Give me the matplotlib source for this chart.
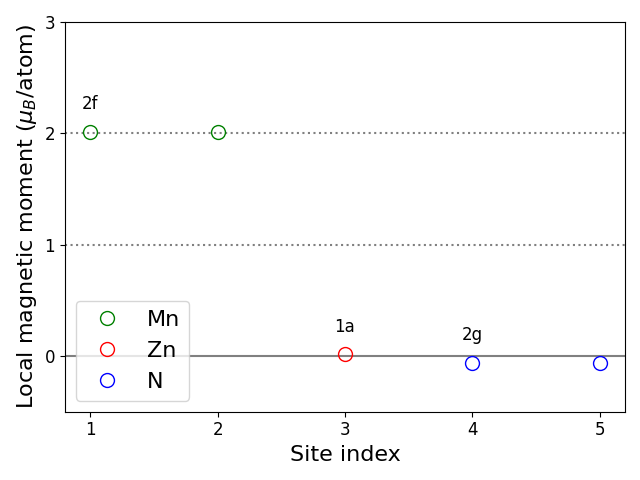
import matplotlib.pyplot as plt
import numpy as np

# site data
mn_x = [1, 2]
mn_m = [2.01, 2.01]
zn_x = [3]
zn_m = [0.02]
n_x = [4, 5]
n_m = [-0.06, -0.06]

site_labels = ['2f', '1a', '2g']
label_x = [1, 3, 4]
label_y = [2.18, 0.18, 0.11]

fig, ax = plt.subplots(figsize=(6.4, 4.8), dpi=100)

ax.axhline(2, color='gray', linestyle=':', linewidth=1.5)
ax.axhline(1, color='gray', linestyle=':', linewidth=1.5)
ax.axhline(0, color='gray', linestyle='-', linewidth=1.5)

ax.plot(mn_x, mn_m, 'o', mfc='none', mec='green', markersize=10, mew=1, label='Mn')
ax.plot(zn_x, zn_m, 'o', mfc='none', mec='red', markersize=10, mew=1, label='Zn')
ax.plot(n_x, n_m, 'o', mfc='none', mec='blue', markersize=10, mew=1, label='N')

for s, x, y in zip(site_labels, label_x, label_y):
    ax.text(x, y, s, fontsize=12, ha='center', va='bottom')

ax.set_xlim(0.8, 5.2)
ax.set_ylim(-0.5, 3)
ax.set_xticks([1, 2, 3, 4, 5])
ax.set_yticks([0, 1, 2, 3])
ax.tick_params(labelsize=12)
ax.set_xlabel('Site index', fontsize=16)
ax.set_ylabel(r'Local magnetic moment ($\mu_B$/atom)', fontsize=16)
ax.legend(loc='lower left', fontsize=16)

plt.tight_layout()
plt.savefig('out.png')
